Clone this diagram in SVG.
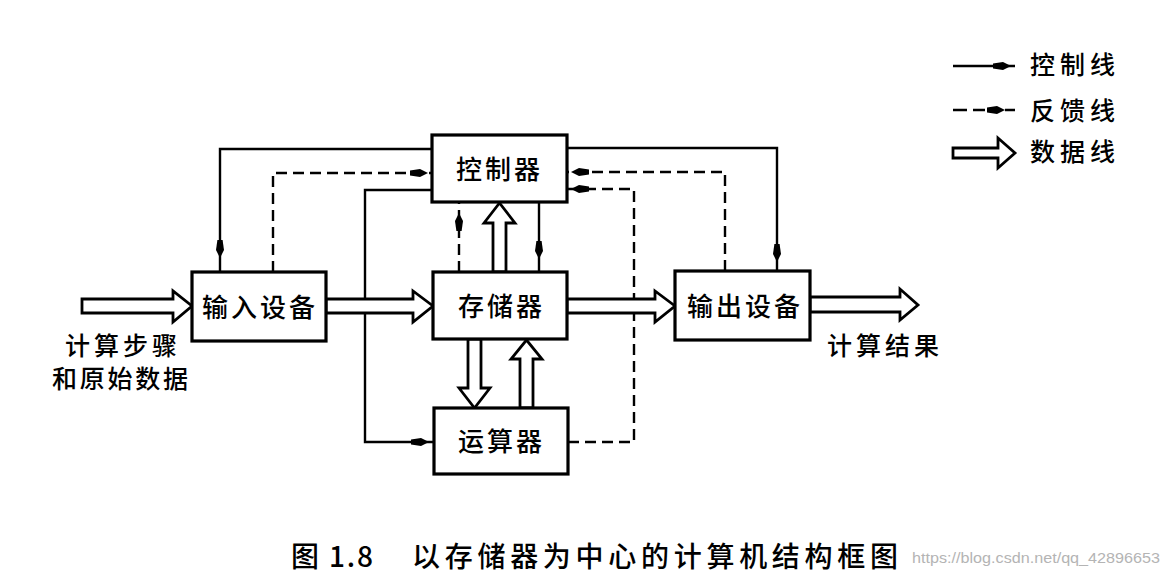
<svg xmlns="http://www.w3.org/2000/svg" width="1164" height="579" viewBox="0 0 1164 579">
<style>
.box{fill:#fff;stroke:#000;stroke-width:3.2}
.t{font-family:"Noto Sans CJK SC","Noto Sans",sans-serif;font-size:26px;font-weight:500;fill:#000;letter-spacing:3px}
.lbl{font-family:"Noto Sans CJK SC","Noto Sans",sans-serif;font-size:25px;font-weight:500;fill:#000}
.ctl{fill:none;stroke:#000;stroke-width:2.4}
.fb{fill:none;stroke:#000;stroke-width:2.4;stroke-dasharray:11 6}
.data{fill:#fff;stroke:#000;stroke-width:2.8;stroke-linejoin:miter}
</style>
<defs>
<polygon id="ah" points="-9,-2.6 1,-4 9,0 1,4 -9,2.6" fill="#000"/>
</defs>
<rect width="1164" height="579" fill="#fff"/>
<g id="connectors">
<path class="ctl" d="M432,149 H220 V272"/>
<use href="#ah" transform="translate(220,249) rotate(90)"/>
<path class="ctl" d="M432,190 H365 V442 H434"/>
<use href="#ah" transform="translate(420,442)"/>
<path class="ctl" d="M567,148 H777 V271"/>
<use href="#ah" transform="translate(777,253) rotate(90)"/>
<path class="ctl" d="M539,202 V272"/>
<use href="#ah" transform="translate(539,250) rotate(90)"/>
<path class="fb" d="M273,272 V173 H432"/>
<use href="#ah" transform="translate(419,173)"/>
<path class="fb" d="M725,271 V172 H567"/>
<use href="#ah" transform="translate(580,172) rotate(180)"/>
<path class="fb" d="M568,442 H634 V189 H567"/>
<use href="#ah" transform="translate(580,189) rotate(180)"/>
<path class="fb" d="M459,272 V202"/>
<use href="#ah" transform="translate(459,222) rotate(-90)"/>
<polygon class="data" points="82,299 173,299 173,291 192,306 173,322 173,313 82,313"/>
<polygon class="data" points="326,299 413,299 413,291 433,306 413,322 413,313 326,313"/>
<polygon class="data" points="567,299 655,299 655,291 675,306 655,322 655,313 567,313"/>
<polygon class="data" points="810,297 900,297 900,289 918,305 900,320 900,312 810,312"/>
<polygon class="data" points="493,272 493,223 484,223 499.5,203 515,223 506,223 506,272"/>
<polygon class="data" points="468,339 468,388 459,388 474.5,408 490,388 481,388 481,339"/>
<polygon class="data" points="520,408 520,359 511,359 526.5,340 542,359 533,359 533,408"/>
</g>
<g id="ctrl"><rect class="box" x="432" y="135" width="135" height="67"/><text class="t" x="456" y="179">控制器</text></g>
<g id="mem"><rect class="box" x="433" y="272" width="134" height="67"/><text class="t" x="458" y="316">存储器</text></g>
<g id="alu"><rect class="box" x="434" y="408" width="134" height="66"/><text class="t" x="458" y="451">运算器</text></g>
<g id="input"><rect class="box" x="192" y="272" width="134" height="69"/><text class="t" x="202" y="316.5">输入设备</text></g>
<g id="output"><rect class="box" x="675" y="271" width="135" height="69"/><text class="t" x="687" y="316">输出设备</text></g>
<g id="labels">
<text class="lbl" x="65" y="354.5" style="letter-spacing:4px">计算步骤</text>
<text class="lbl" x="52" y="388" style="letter-spacing:2.75px">和原始数据</text>
<text class="lbl" x="827" y="354.5" style="letter-spacing:4px">计算结果</text>
</g>
<g id="legend">
<path class="ctl" d="M953,66 H1015"/>
<use href="#ah" transform="translate(1002,66)"/>
<text class="lbl" x="1030" y="73.5" style="letter-spacing:5px">控制线</text>
<path class="ctl" d="M953,110 H967 M973,110 H985 M1005,110 H1015"/>
<use href="#ah" transform="translate(996,110)"/>
<text class="lbl" x="1030" y="119.5" style="letter-spacing:5px">反馈线</text>
<polygon class="data" points="953,148 998,148 998,138 1015,153 998,168 998,158 953,158"/>
<text class="lbl" x="1030" y="160.5" style="letter-spacing:5px">数据线</text>
</g>
<g id="caption">
<text class="lbl" x="291" y="567" style="font-size:28px" textLength="82" lengthAdjust="spacing">图 1.8</text>
<text class="lbl" x="412" y="567" style="font-size:28px" textLength="486" lengthAdjust="spacing">以存储器为中心的计算机结构框图</text>
<text x="912" y="563" font-family="Liberation Sans, sans-serif" font-size="15" fill="#b4b4b4" textLength="248" lengthAdjust="spacingAndGlyphs">https://blog.csdn.net/qq_42896653</text>
</g>
</svg>
